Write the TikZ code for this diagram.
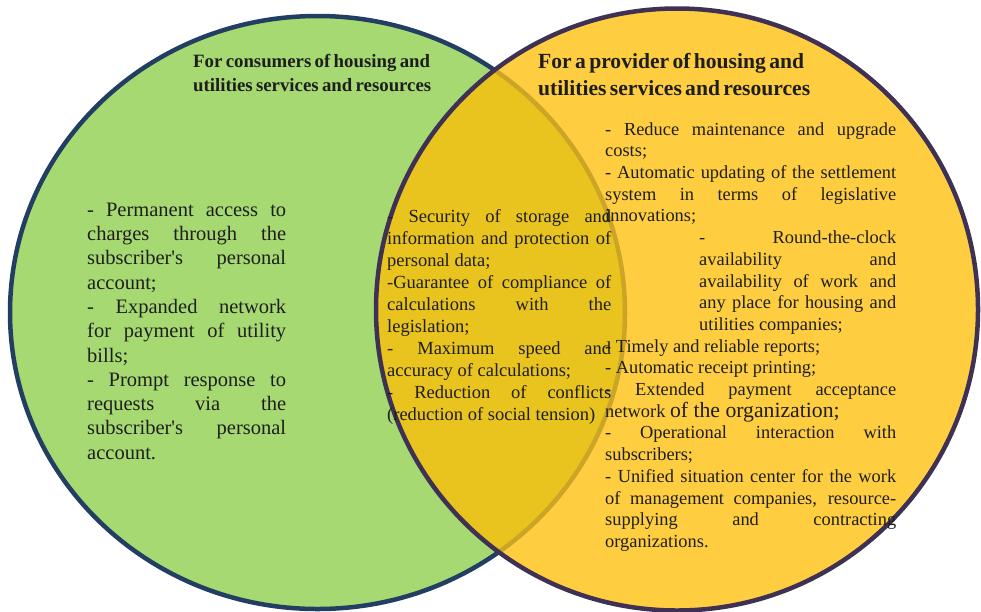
\documentclass[tikz,border=0pt]{standalone}
\usepackage{fontspec}
\setmainfont{Liberation Serif}
\usetikzlibrary{positioning}

\definecolor{consumerfill}{RGB}{166,217,113}
\definecolor{consumerline}{RGB}{35,62,99}
\definecolor{providerfill}{RGB}{255,206,64}
\definecolor{providerline}{RGB}{63,49,84}
\definecolor{commonfill}{RGB}{233,196,31}
\definecolor{commonring}{RGB}{204,164,38}
\definecolor{ink}{RGB}{30,30,30}

\begin{document}
\begin{tikzpicture}[x=1pt,y=-1pt,
    ring/.style={line width=4.5pt},
    headtext/.style={anchor=north west,inner sep=0pt,align=left,text=ink,font=\bfseries},
    bodytext/.style={anchor=north west,inner sep=0pt,align=justify,text=ink,
        execute at begin node={\parindent=0pt\parskip=0pt\hyphenpenalty=10000\tolerance=10000}}]
    \useasboundingbox (0,0) rectangle (981,611);

    % the two sets
    \fill[consumerfill] (317.5,312.5) ellipse [x radius=307.5pt, y radius=296.5pt];
    \draw[ring, consumerline] (317.5,312.5) ellipse [x radius=307.5pt, y radius=296.5pt];
    \fill[providerfill] (677,309.5) circle [radius=301pt];

    % overlap
    \begin{scope}
        \clip (317.5,312.5) ellipse [x radius=307.5pt, y radius=296.5pt];
        \fill[commonfill] (677,309.5) circle [radius=301pt];
    \end{scope}
    \begin{scope}
        \clip (677,309.5) circle [radius=301pt];
        \draw[ring, commonring] (317.5,312.5) ellipse [x radius=307.5pt, y radius=296.5pt];
    \end{scope}
    \draw[ring, providerline] (677,309.5) circle [radius=301pt];

    % headings
    \node[headtext, text width=270pt] (consumerhead) at (193,50.2)
        {\fontsize{18.8}{24}\selectfont\strut For consumers of housing and\\utilities services and resources\par};
    \node[headtext, text width=300pt] (providerhead) at (538,49.1)
        {\fontsize{21.6}{27}\selectfont\strut For a provider of housing and\\utilities services and resources\par};

    % consumers only
    \node[bodytext, text width=199pt] (consumerlist) at (87,199)
        {\fontsize{20.5}{24.3}\selectfont\strut
        - Permanent access to\linebreak charges through the\linebreak
        subscriber\textquotesingle s personal\linebreak account;\par
        - Expanded network\linebreak for payment of utility\linebreak bills;\par
        - Prompt response to\linebreak requests via the\linebreak
        subscriber\textquotesingle s personal\linebreak account.\par};

    % common part
    \node[bodytext, text width=224pt] (commonlist) at (387,207.3)
        {\fontsize{18.5}{22}\selectfont\strut
        - Security of storage and\linebreak information and protection of\linebreak personal data;\par
        -Guarantee of compliance of\linebreak calculations with the\linebreak legislation;\par
        - Maximum speed and\linebreak accuracy of calculations;\par
        - Reduction of conflicts\linebreak (reduction of social tension)\par};

    % provider only
    \node[bodytext, text width=291pt] (providerlist) at (605,119.8)
        {\fontsize{18.4}{21.7}\selectfont\strut
        - Reduce maintenance and upgrade\linebreak costs;\par
        - Automatic updating of the settlement\linebreak system in terms of legislative\linebreak innovations;\par
        {\leftskip=94pt - Round-the-clock\linebreak availability and\linebreak
        availability of work and\linebreak any place for housing and\linebreak
        utilities companies;\par}
        - Timely and reliable reports;\par
        - Automatic receipt printing;\par
        - Extended payment acceptance\linebreak
        network {\fontsize{21.7}{21.7}\selectfont of the organization;}\par
        - Operational interaction with\linebreak subscribers;\par
        - Unified situation center for the work\linebreak
        of management companies, resource-\linebreak
        supplying and contracting\linebreak organizations.\par};
\end{tikzpicture}
\end{document}
